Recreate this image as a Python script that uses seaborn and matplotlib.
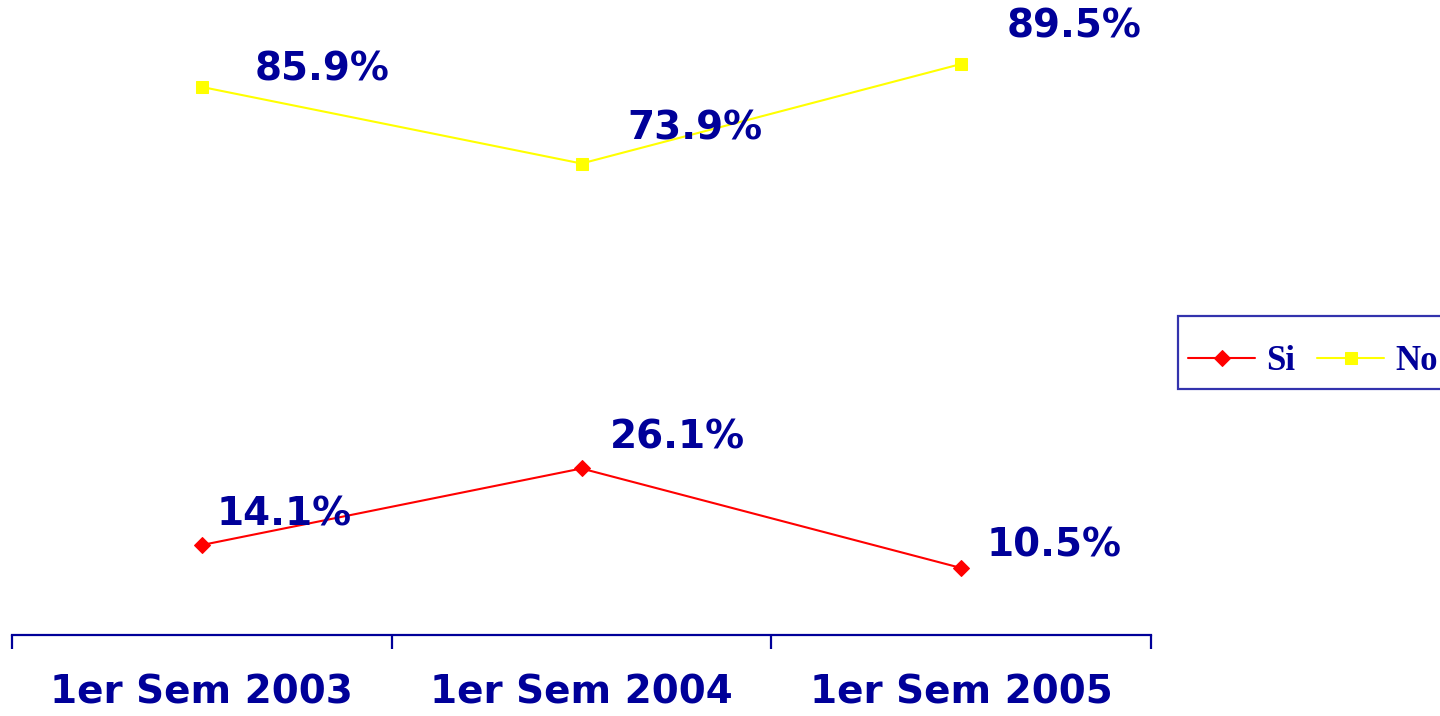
import pandas as pd
import numpy as np
import seaborn as sns
import matplotlib
matplotlib.use("Agg")
import matplotlib.pyplot as plt

# data
periodos = ['1er Sem 2003', '1er Sem 2004', '1er Sem 2005']
si = [14.1, 26.1, 10.5]
no = [85.9, 73.9, 89.5]

navy = '#000099'

sns.set_style("white")
plt.rcParams['font.family'] = ['DejaVu Sans']

df = pd.DataFrame({'periodo': periodos * 2,
                   'valor': si + no,
                   'serie': ['Si'] * 3 + ['No'] * 3})

fig = plt.figure(figsize=(14.4, 7.16), dpi=100)
ax = fig.add_axes([12 / 1440, 81 / 716, 1139 / 1440, 638 / 716])

sns.lineplot(data=df[df.serie == 'Si'], x='periodo', y='valor', ax=ax,
             color='#ff0000', marker='D', markersize=8, markeredgecolor='#ff0000',
             linewidth=1.5, label='Si', sort=False)
sns.lineplot(data=df[df.serie == 'No'], x='periodo', y='valor', ax=ax,
             color='#ffff00', marker='s', markersize=9, markeredgecolor='#ffff00',
             linewidth=1.5, label='No', sort=False)

# value labels
off_si = [(15, 31), (28, 31), (25, 23)]
off_no = [(53, 17), (46, 35), (45, 37)]
for i, v in enumerate(si):
    ax.annotate(f'{v:.1f}%', (i, v), xytext=off_si[i], textcoords='offset pixels',
                ha='left', va='center', fontsize=28, fontweight='bold', color=navy)
for i, v in enumerate(no):
    ax.annotate(f'{v:.1f}%', (i, v), xytext=off_no[i], textcoords='offset pixels',
                ha='left', va='center', fontsize=28, fontweight='bold', color=navy)

ax.set_xlim(-0.5, 2.5)
ax.set_ylim(0, 100)
ax.set_xlabel('')
ax.set_ylabel('')
ax.set_yticks([])

# ticks between categories, labels centered on categories
ax.set_xticks([-0.5, 0.5, 1.5, 2.5])
ax.set_xticklabels([])
ax.set_xticks([0, 1, 2], minor=True)
ax.set_xticklabels(periodos, minor=True, fontsize=28, fontweight='bold', color=navy)
ax.tick_params(axis='x', which='major', bottom=True, direction='out', length=10,
               width=1.6, color=navy)
ax.tick_params(axis='x', which='minor', bottom=True, length=0, pad=28)

for s in ['top', 'right', 'left']:
    ax.spines[s].set_visible(False)
ax.spines['bottom'].set_color(navy)
ax.spines['bottom'].set_linewidth(1.6)

ax.get_legend().remove()
h, l = ax.get_legend_handles_labels()
# blank small title just pushes the entries down a bit, like the original box
leg = fig.legend(h, l, loc='upper left', bbox_to_anchor=(1178 / 1440, 1 - 316 / 716),
                 ncol=2, frameon=True, fancybox=False, borderpad=0.3, borderaxespad=0,
                 handlelength=1.93, handletextpad=0.32, columnspacing=0.63,
                 labelspacing=0.0, title=' ', title_fontsize=14,
                 prop={'family': 'Liberation Serif', 'weight': 'bold', 'size': 25})
leg.get_frame().set_edgecolor(navy)
leg.get_frame().set_linewidth(1.6)
for t in leg.get_texts():
    t.set_color(navy)

fig.savefig('out.png', dpi=100)
